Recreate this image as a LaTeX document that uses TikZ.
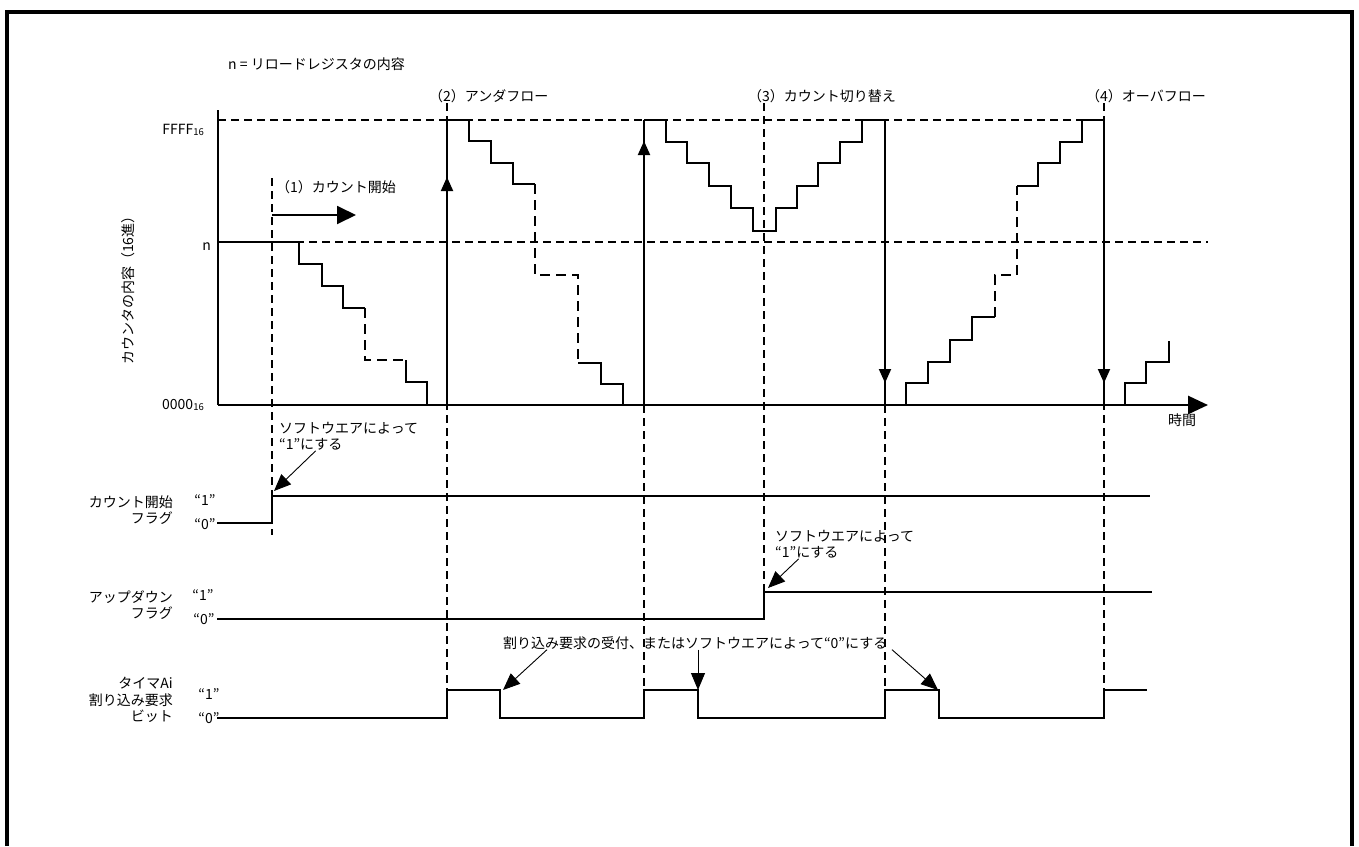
\documentclass[tikz,border=0pt]{standalone}
\usepackage{fontspec}
\setmainfont{Noto Sans CJK JP}
\usetikzlibrary{arrows.meta}

\begin{document}
\begin{tikzpicture}[x=1pt, y=-1pt,
		sig/.style = {line width=1.9pt},
		skip/.style = {line width=2.6pt, dash pattern=on 10pt off 6pt},
		axisline/.style = {line width=2.8pt},
		guide/.style = {line width=1.9pt, dash pattern=on 8pt off 5pt},
		note/.style = {line width=0.9pt},
		lab/.style = {font=\fontsize{14}{16.5}\selectfont, inner sep=0pt},
		tri/.style = {-{Triangle[length=14pt, width=12pt]}},
		calltip/.style = {-{Triangle[length=17pt, width=14pt]}},
		bigtri/.style = {-{Triangle[length=19pt, width=18pt]}}]
		\useasboundingbox (0,0) rectangle (1359,846);
		% Kehys
		\draw[line width=3.5pt] (7,846) -- (7,12) -- (1352,12) -- (1352,846);
		% Tekstit
		\node[lab, anchor=west] (title) at (228,64) {n = リロードレジスタの内容};
		\node[lab, anchor=east] (ffff) at (204,130) {FFFF\raisebox{-1pt}{\fontsize{9.5}{9.5}\selectfont 16}};
		\node[lab, anchor=east] (nlev) at (211,247) {n};
		\node[lab, anchor=east] (zero) at (204,405) {0000\raisebox{-1pt}{\fontsize{9.5}{9.5}\selectfont 16}};
		\node[lab, rotate=90] (ylab) at (128,287) {カウンタの内容（16進）};
		\node[lab] (time) at (1182,420) {時間};
		\node[lab, anchor=west] (ev1) at (276,187) {（1）カウント開始};
		\node[lab, anchor=west] (ev2) at (429,96) {（2）アンダフロー};
		\node[lab, anchor=west] (ev3) at (748,96) {（3）カウント切り替え};
		\node[lab, anchor=west] (ev4) at (1086,96) {（4）オーバフロー};
		% Apuviivat
		\draw[guide] (218,120) -- (1104,120);	% FFFF
		\draw[guide] (218,242) -- (1208,242);	% n
		\draw[guide] (272,178) -- (272,535);	% (1)
		\draw[guide] (447,103) -- (447,690);	% (2)
		\draw[guide] (644,405) -- (644,690);
		\draw[guide] (764,103) -- (764,592);	% (3)
		\draw[guide] (885,405) -- (885,690);
		\draw[guide] (1104,103) -- (1104,690);	% (4)
		% Akselit
		\draw[axisline] (218,110) -- (218,405);
		\draw[axisline, -{Triangle[length=20pt, width=18pt]}] (218,405) -- (1208,405);
		% Portaat
		\draw[sig] (218,242) -| (299,264) -| (322,286) -| (343,308) -- (365,308);
		\draw[skip] (365,308) |- (406,360);
		\draw[sig] (406,360) |- (427,382) -- (427,405);
		\draw[sig] (447,120) -| (469,141) -| (491,163) -| (513,184) -- (535,184);
		\draw[skip] (535,184) |- (578,275) -- (578,363);
		\draw[sig] (578,363) -| (601,384) -| (623,405);
		\draw[sig] (644,120) -| (666,142) -| (687,163) -| (709,186) -| (731,208) -| (753,231)
			-| (776,208) -| (797,186) -| (818,163) -| (840,142) -| (862,120) -- (885,120);
		\draw[sig] (885,405) -| (906,383) -| (928,362) -| (950,340) -| (972,317) -- (995,317);
		\draw[skip] (995,317) |- (1017,275) -- (1017,186);
		\draw[sig] (1017,186) -| (1038,163) -| (1060,142) -| (1082,120) -- (1104,120);
		\draw[sig] (1104,405) -| (1125,383) -| (1146,362) -| (1169,341);
		% Lataukset
		\draw[sig, tri] (447,405) -- (447,177);
		\draw[sig] (447,180) -- (447,120);
		\draw[sig, tri] (644,405) -- (644,141);
		\draw[sig] (644,144) -- (644,120);
		\draw[sig, tri] (885,120) -- (885,383);
		\draw[sig] (885,380) -- (885,405);
		\draw[sig, tri] (1104,120) -- (1104,383);
		\draw[sig] (1104,380) -- (1104,405);
		\draw[sig, bigtri] (272,215) -- (356,215);	% laskenta alkaa
		% Liput
		\node[lab, align=right, anchor=east] (cs) at (173,510) {カウント開始\\フラグ};
		\node[lab, align=right, anchor=east] (ud) at (173,605) {アップダウン\\フラグ};
		\node[lab, align=right, anchor=east] (ir) at (173,700) {タイマAi\\割り込み要求\\ビット};
		\node[lab] (cs1) at (205,500) {“1”};
		\node[lab] (cs0) at (205,524) {“0”};
		\node[lab] (ud1) at (203,595) {“1”};
		\node[lab] (ud0) at (204,619) {“0”};
		\node[lab] (ir1) at (209,694) {“1”};
		\node[lab] (ir0) at (209,718) {“0”};
		\draw[sig] (217,523) -| (272,496) -- (1150,496);	% cs
		\draw[sig] (217,619) -| (764,592) -- (1152,592);	% ud
		\draw[sig] (217,718) -| (447,690) -| (500,718) -| (644,690) -| (698,718)
			-| (885,690) -| (939,718) -| (1104,690) -- (1147,690);	% ir
		% Selitteet
		\node[lab, align=left, anchor=north west] (sw1) at (279,422) {ソフトウエアによって\\“1”にする};
		\node[lab, align=left, anchor=north west] (sw2) at (775,530) {ソフトウエアによって\\“1”にする};
		\node[lab, anchor=west] (clr) at (503,643) {割り込み要求の受付、またはソフトウエアによって“0”にする};
		\coordinate (csset) at (274,491);
		\coordinate (udset) at (768,588);
		\coordinate (ack1) at (503,690);
		\coordinate (ack2) at (698,690);
		\coordinate (ack3) at (938,690);
		\draw[note, calltip] ([xshift=-33pt]sw1.south) -- (csset);
		\draw[note, calltip] ([xshift=-46pt]sw2.south) -- (udset);
		\draw[note, calltip] ([xshift=44pt]clr.south west) -- (ack1);
		\draw[note, calltip] ([xshift=195pt]clr.south west) -- (ack2);
		\draw[note, calltip] ([xshift=389pt]clr.south west) -- (ack3);
\end{tikzpicture}
\end{document}
